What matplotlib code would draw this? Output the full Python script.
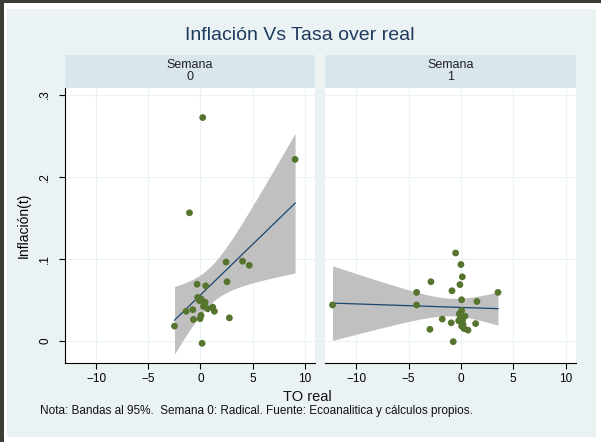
import numpy as np
import matplotlib
matplotlib.use("Agg")
import matplotlib.pyplot as plt
from matplotlib.patches import Rectangle

plt.rcParams['font.family'] = ['Liberation Sans', 'DejaVu Sans']

# datos: TO real (x) e inflacion (y) por semana
to_real_s0 = [-1.05, 0.22, 9.09, 2.46, 4.05, 4.69, 2.55, -0.32, 0.51, -0.26,
              0.06, 0.38, 0.29, 1.18, 1.34, 0.70, -0.73, -1.37, -0.67, -0.03,
              0.06, 2.78, -2.49, 0.16, -0.10, 0.45]
infl_s0 = [0.156, 0.272, 0.221, 0.096, 0.097, 0.092, 0.072, 0.069, 0.067, 0.053,
           0.051, 0.045, 0.042, 0.041, 0.036, 0.039, 0.038, 0.036, 0.026, 0.027,
           0.031, 0.028, 0.018, -0.003, 0.049, 0.047]

to_real_s1 = [-12.28, -0.51, 0.00, 0.13, -2.87, -0.10, -0.86, -4.24, 3.54, 0.06,
              1.53, -4.24, 0.06, -0.16, 0.38, -1.79, -0.93, -0.22, 1.40, 0.06,
              0.29, 0.67, -2.97, -0.74, -0.05, 0.15, 0.20]
infl_s1 = [0.0437, 0.107, 0.093, 0.078, 0.072, 0.0685, 0.061, 0.059, 0.059, 0.050,
           0.048, 0.0437, 0.037, 0.033, 0.030, 0.0265, 0.022, 0.0245, 0.021, 0.018,
           0.015, 0.013, 0.014, -0.001, 0.028, 0.025, 0.020]

semanas = ["0", "1"]
x_ticks = [-10, -5, 0, 5, 10]
y_ticks = [0, 0.1, 0.2, 0.3]
y_ticklabels = ["0", ".1", ".2", ".3"]

BG = "#eaf2f3"
STRIP = "#d9e6eb"
NAVY = "#1a476f"
GREEN = "#55752f"
BAND = "#c0c0c0"
DARK = "#3b3e36"
T95 = 2.07

W, H = 601, 442
fig = plt.figure(figsize=(W / 100, H / 100), dpi=100)
fig.patch.set_facecolor("white")
# marco oscuro arriba e izquierda (captura de pantalla)
fig.add_artist(Rectangle((0, 1 - 3 / H), 1, 3 / H, transform=fig.transFigure,
                         facecolor=DARK, edgecolor="none", zorder=0))
fig.add_artist(Rectangle((0, 0), 4 / W, 1, transform=fig.transFigure,
                         facecolor=DARK, edgecolor="none", zorder=0))
fig.add_artist(Rectangle((7 / W, 1 - 437 / H), 589 / W, 428 / H,
                         transform=fig.transFigure, facecolor=BG,
                         edgecolor="none", zorder=0))


def box(l, t, r, b):
    return [l / W, 1 - b / H, (r - l) / W, (b - t) / H]


def lfitci(x, y):
    x = np.asarray(x)
    y = np.asarray(y)
    b, a = np.polyfit(x, y, 1)
    n = len(x)
    resid = y - (a + b * x)
    s = np.sqrt(np.sum(resid ** 2) / (n - 2))
    xs = np.linspace(x.min(), x.max(), 100)
    se = s * np.sqrt(1 / n + (xs - x.mean()) ** 2 / np.sum((x - x.mean()) ** 2))
    fit = a + b * xs
    return xs, fit, fit - T95 * se, fit + T95 * se


panels = [(65, 315, to_real_s0, infl_s0), (325, 576, to_real_s1, infl_s1)]
for i, (l, r, xd, yd) in enumerate(panels):
    ax = fig.add_axes(box(l, 88, r, 363))
    ax.set_facecolor("white")
    xs, fit, lo, hi = lfitci(xd, yd)
    ax.fill_between(xs, lo, hi, color=BAND, lw=0, zorder=2)
    ax.plot(xs, fit, color=NAVY, lw=0.9, zorder=3)
    ax.scatter(xd, yd, s=24, color=GREEN, edgecolors="none", zorder=4)
    ax.set_xlim(-13, 11)
    ax.set_ylim(-0.027, 0.308)
    ax.set_xticks(x_ticks)
    ax.set_yticks(y_ticks)
    ax.grid(True, color=BG, lw=0.8, zorder=1)
    ax.set_axisbelow(True)
    for sp in ["top", "right"]:
        ax.spines[sp].set_visible(False)
    ax.spines["bottom"].set_linewidth(0.8)
    ax.tick_params(axis="x", labelsize=8.5, length=4, width=0.8, pad=3)
    if i == 0:
        ax.spines["left"].set_linewidth(0.8)
        ax.set_yticklabels(y_ticklabels, rotation=90, va="center")
        ax.tick_params(axis="y", labelsize=8.5, length=4, width=0.8, pad=6)
        ax.set_ylabel("Inflación(t)", fontsize=10, labelpad=6)
    else:
        ax.spines["left"].set_visible(False)
        ax.tick_params(axis="y", left=False, labelleft=False)

    sax = fig.add_axes(box(l, 55, r, 88))
    sax.set_facecolor(STRIP)
    sax.set_xticks([])
    sax.set_yticks([])
    for sp in sax.spines.values():
        sp.set_visible(False)
    sax.text(0.5, 0.5, "Semana\n" + semanas[i], ha="center", va="center",
             fontsize=9, linespacing=1.0, color="#222222",
             transform=sax.transAxes)

fig.text(300 / W, 1 - 36 / H, "Inflación Vs Tasa over real", ha="center",
         va="center", fontsize=14, color="#1e3a5c")
fig.text(307 / W, 1 - 397 / H, "TO real", ha="center", va="center",
         fontsize=10.5, color="#111111")
fig.text(40 / W, 1 - 411 / H,
         "Nota: Bandas al 95%.  Semana 0: Radical. Fuente: Ecoanalitica y cálculos propios.",
         ha="left", va="center", fontsize=8.5, color="#111111")

fig.savefig("out.png", dpi=100, facecolor=fig.get_facecolor())
